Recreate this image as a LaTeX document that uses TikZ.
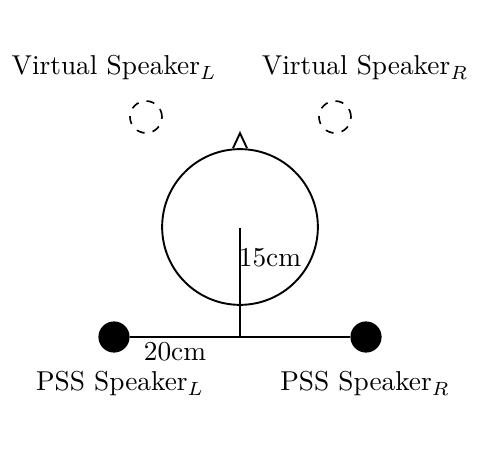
\documentclass[tikz,border=0pt]{standalone}
\usepackage{amsmath}
\usepackage{tikz}
\usetikzlibrary{positioning,calc}
\tikzset{
  virt/.style={draw,dashed,circle,line width=0.6pt,minimum size=11.7pt,inner sep=0pt},
  pss/.style={draw,fill=black,circle,minimum size=11pt,inner sep=0pt},
  head/.style={draw,circle,line width=0.7pt,minimum size=57pt,inner sep=0pt},
  lbl/.style={font=\normalsize,inner sep=1pt},
  wire/.style={line width=0.7pt}
}
\begin{document}
\begin{tikzpicture}[x=0.366pt,y=-0.366pt]
  \useasboundingbox (0,0) rectangle (484,454);
  % head and nose
  \node[head] (head) at (240,227) {};
  \draw[wire] ($(head.north)+(-7,0)$) -- ++(7,-15) -- ++(7,15);
  \coordinate (hc) at (240,228);
  % virtual speakers
  \node[virt] (vL) at (146,117) {};
  \node[virt] (vR) at (335,117) {};
  \node[lbl] (vLtxt) at (114,68) {Virtual Speaker$_L$};
  \node[lbl] (vRtxt) at (365,68) {Virtual Speaker$_R$};
  % pss speakers
  \node[pss] (pL) at (114,337) {};
  \node[pss] (pR) at (366,337) {};
  \coordinate (mid) at (240,337);
  \draw[wire] (pL) -- (pR);
  \draw[wire] (hc) -- (mid);
  \node[lbl] (d15) at (270,258) {15cm};
  \node[lbl] (d20) at (175,352) {20cm};
  \node[lbl] (pLtxt) at (120,384) {PSS Speaker$_L$};
  \node[lbl] (pRtxt) at (365,384) {PSS Speaker$_R$};
\end{tikzpicture}
\end{document}
